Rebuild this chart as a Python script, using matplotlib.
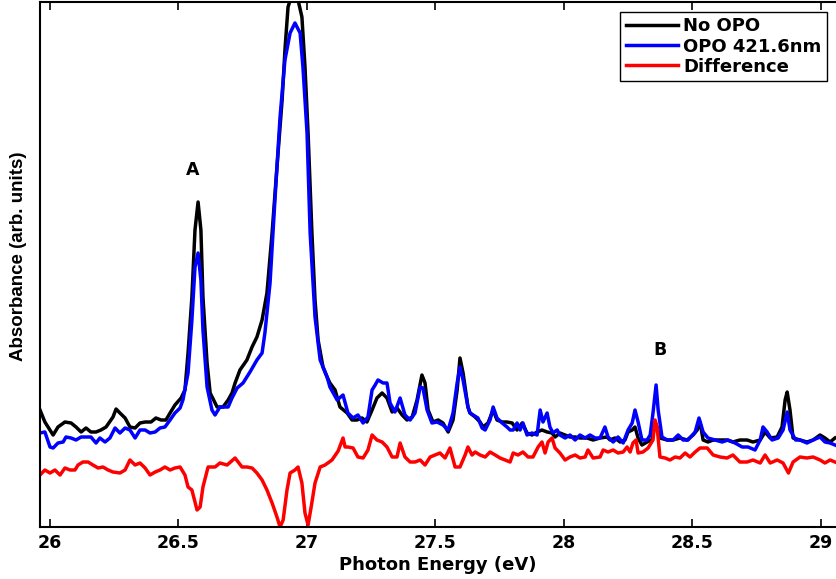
import matplotlib
matplotlib.use("Agg")
import matplotlib.pyplot as plt

# photon energy (eV) and absorbance (arb. units)
energy_no_opo = [25.963, 25.982, 26.014, 26.033, 26.060, 26.084, 26.103, 26.123, 26.142, 26.161,
                 26.181, 26.200, 26.220, 26.247, 26.259, 26.274, 26.294, 26.313, 26.333, 26.352,
                 26.372, 26.395, 26.414, 26.434, 26.453, 26.469, 26.488, 26.512, 26.527, 26.539,
                 26.554, 26.566, 26.578, 26.589, 26.597, 26.613, 26.625, 26.652, 26.675, 26.695,
                 26.710, 26.722, 26.741, 26.768, 26.788, 26.807, 26.827, 26.846, 26.866, 26.885,
                 26.905, 26.916, 26.928, 26.943, 26.955, 26.967, 26.982, 26.994, 27.006, 27.021,
                 27.033, 27.045, 27.064, 27.080, 27.091, 27.111, 27.130, 27.158, 27.177, 27.196,
                 27.216, 27.235, 27.255, 27.274, 27.294, 27.313, 27.333, 27.352, 27.372, 27.391,
                 27.411, 27.430, 27.449, 27.461, 27.473, 27.492, 27.512, 27.531, 27.551, 27.570,
                 27.586, 27.597, 27.609, 27.628, 27.636, 27.656, 27.675, 27.687, 27.706, 27.726,
                 27.741, 27.761, 27.780, 27.800, 27.819, 27.839, 27.858, 27.877, 27.897, 27.916,
                 27.936, 27.955, 27.967, 27.986, 28.006, 28.025, 28.045, 28.064, 28.091, 28.115,
                 28.142, 28.169, 28.181, 28.200, 28.220, 28.239, 28.251, 28.267, 28.278, 28.290,
                 28.305, 28.325, 28.344, 28.356, 28.364, 28.375, 28.403, 28.426, 28.453, 28.481,
                 28.504, 28.520, 28.531, 28.543, 28.562, 28.582, 28.609, 28.636, 28.659, 28.686,
                 28.714, 28.737, 28.765, 28.784, 28.804, 28.831, 28.850, 28.862, 28.870, 28.881,
                 28.893, 28.920, 28.947, 28.971, 28.998, 29.017, 29.037, 29.056]
absorb_no_opo = [117, 105, 92, 100, 105, 104, 100, 95, 99, 95,
                 95, 97, 100, 110, 118, 114, 109, 100, 99, 104,
                 105, 105, 109, 107, 107, 114, 122, 129, 137, 174,
                 230, 297, 325, 297, 230, 164, 134, 120, 120, 127,
                 134, 144, 157, 167, 180, 190, 207, 234, 294, 360,
                 427, 477, 520, 532, 533, 527, 510, 460, 394, 294,
                 227, 187, 160, 150, 144, 137, 120, 114, 107, 107,
                 109, 105, 117, 129, 134, 129, 115, 119, 112, 107,
                 110, 127, 152, 144, 117, 105, 107, 104, 95, 107,
                 137, 169, 154, 120, 114, 110, 105, 100, 104, 117,
                 107, 105, 105, 104, 97, 104, 94, 92, 95, 97,
                 95, 94, 90, 94, 92, 90, 90, 89, 89, 87,
                 89, 90, 87, 89, 85, 87, 95, 97, 100, 89,
                 82, 85, 87, 105, 100, 89, 87, 87, 89, 87,
                 92, 97, 105, 87, 85, 87, 87, 87, 85, 87,
                 87, 85, 87, 95, 89, 90, 100, 127, 135, 117,
                 89, 87, 85, 87, 92, 89, 85, 89]

energy_opo = [25.963, 25.982, 26.002, 26.014, 26.033, 26.053, 26.064, 26.084, 26.103, 26.123,
              26.142, 26.161, 26.181, 26.196, 26.216, 26.235, 26.255, 26.274, 26.294, 26.313,
              26.333, 26.352, 26.372, 26.391, 26.411, 26.430, 26.449, 26.469, 26.488, 26.508,
              26.519, 26.539, 26.554, 26.566, 26.578, 26.589, 26.597, 26.613, 26.632, 26.644,
              26.663, 26.695, 26.710, 26.730, 26.753, 26.780, 26.807, 26.827, 26.838, 26.858,
              26.877, 26.897, 26.916, 26.936, 26.955, 26.975, 26.986, 27.002, 27.014, 27.033,
              27.053, 27.080, 27.091, 27.119, 27.142, 27.161, 27.181, 27.200, 27.220, 27.239,
              27.255, 27.267, 27.278, 27.298, 27.313, 27.325, 27.344, 27.364, 27.383, 27.403,
              27.422, 27.442, 27.453, 27.469, 27.488, 27.508, 27.531, 27.551, 27.570, 27.586,
              27.597, 27.609, 27.628, 27.636, 27.648, 27.667, 27.683, 27.695, 27.714, 27.726,
              27.741, 27.761, 27.780, 27.792, 27.804, 27.819, 27.831, 27.842, 27.858, 27.877,
              27.897, 27.909, 27.920, 27.936, 27.947, 27.959, 27.975, 27.986, 28.006, 28.025,
              28.045, 28.064, 28.084, 28.103, 28.123, 28.142, 28.161, 28.173, 28.193, 28.212,
              28.232, 28.251, 28.267, 28.278, 28.290, 28.305, 28.325, 28.337, 28.348, 28.360,
              28.368, 28.383, 28.403, 28.426, 28.446, 28.465, 28.484, 28.512, 28.527, 28.543,
              28.562, 28.589, 28.617, 28.640, 28.667, 28.695, 28.718, 28.745, 28.765, 28.776,
              28.792, 28.811, 28.835, 28.854, 28.870, 28.881, 28.903, 28.920, 28.947, 28.971,
              28.998, 29.017, 29.037, 29.056]
absorb_opo = [94, 95, 80, 79, 84, 85, 90, 89, 87, 90,
              90, 90, 84, 89, 85, 89, 99, 94, 99, 97,
              89, 97, 97, 94, 95, 99, 100, 107, 114, 119,
              127, 154, 207, 260, 274, 247, 197, 140, 117, 112,
              120, 120, 129, 139, 144, 155, 167, 174, 194, 244,
              327, 410, 467, 494, 504, 494, 460, 394, 294, 210,
              167, 150, 140, 127, 132, 114, 109, 112, 104, 110,
              137, 142, 147, 144, 144, 124, 115, 129, 112, 107,
              114, 140, 139, 117, 104, 105, 102, 97, 114, 144,
              160, 147, 120, 114, 112, 109, 99, 97, 107, 120,
              109, 104, 100, 97, 97, 104, 97, 104, 92, 94,
              92, 117, 105, 114, 100, 94, 97, 92, 89, 92,
              87, 92, 89, 92, 89, 89, 100, 90, 85, 90,
              84, 97, 104, 117, 105, 87, 87, 92, 114, 142,
              117, 90, 87, 87, 92, 87, 87, 95, 109, 95,
              89, 87, 85, 87, 84, 80, 80, 77, 87, 100,
              95, 87, 89, 97, 115, 97, 87, 87, 84, 87,
              90, 85, 84, 82]

energy_diff = [25.963, 25.982, 26.002, 26.021, 26.041, 26.060, 26.080, 26.099, 26.111, 26.130,
               26.150, 26.169, 26.189, 26.208, 26.228, 26.247, 26.274, 26.294, 26.313, 26.333,
               26.352, 26.372, 26.391, 26.411, 26.430, 26.449, 26.469, 26.488, 26.508, 26.527,
               26.539, 26.554, 26.574, 26.586, 26.597, 26.617, 26.644, 26.663, 26.691, 26.722,
               26.749, 26.768, 26.788, 26.807, 26.827, 26.846, 26.866, 26.885, 26.897, 26.909,
               26.924, 26.936, 26.955, 26.967, 26.982, 26.994, 27.006, 27.018, 27.033, 27.053,
               27.072, 27.099, 27.123, 27.142, 27.150, 27.161, 27.181, 27.200, 27.220, 27.239,
               27.255, 27.274, 27.294, 27.313, 27.333, 27.352, 27.364, 27.383, 27.403, 27.422,
               27.442, 27.461, 27.481, 27.500, 27.519, 27.539, 27.558, 27.578, 27.597, 27.617,
               27.628, 27.644, 27.656, 27.675, 27.695, 27.714, 27.734, 27.753, 27.772, 27.792,
               27.804, 27.823, 27.842, 27.862, 27.881, 27.901, 27.916, 27.928, 27.940, 27.955,
               27.967, 27.986, 28.006, 28.025, 28.045, 28.064, 28.084, 28.095, 28.115, 28.142,
               28.154, 28.173, 28.193, 28.212, 28.232, 28.247, 28.259, 28.270, 28.282, 28.290,
               28.309, 28.329, 28.348, 28.356, 28.364, 28.375, 28.395, 28.414, 28.434, 28.453,
               28.473, 28.492, 28.512, 28.531, 28.559, 28.582, 28.609, 28.636, 28.659, 28.686,
               28.714, 28.737, 28.765, 28.784, 28.804, 28.831, 28.854, 28.875, 28.893, 28.920,
               28.947, 28.971, 28.998, 29.017, 29.037, 29.056]
absorb_diff = [52, 57, 54, 57, 52, 59, 57, 57, 62, 65,
               65, 62, 59, 60, 57, 55, 54, 57, 67, 62,
               64, 59, 52, 55, 57, 60, 57, 59, 60, 52,
               40, 37, 17, 20, 40, 60, 60, 64, 62, 69,
               60, 60, 59, 54, 47, 37, 24, 10, 0, 7,
               37, 54, 57, 60, 44, 14, 2, 20, 44, 60,
               62, 67, 76, 89, 80, 80, 79, 70, 69, 77,
               92, 87, 85, 80, 70, 70, 84, 70, 65, 65,
               67, 62, 70, 72, 74, 69, 79, 60, 60, 72,
               80, 72, 75, 72, 70, 75, 72, 69, 67, 65,
               74, 72, 75, 70, 70, 80, 85, 74, 85, 89,
               79, 74, 67, 70, 72, 69, 70, 77, 69, 70,
               77, 75, 77, 74, 75, 80, 75, 84, 87, 74,
               75, 79, 87, 107, 100, 70, 69, 67, 70, 69,
               74, 70, 75, 79, 79, 72, 70, 69, 72, 65,
               65, 67, 64, 72, 64, 67, 64, 54, 65, 70,
               69, 70, 67, 64, 67, 65]

labels = ["No OPO", "OPO 421.6nm", "Difference"]
colors = ["black", "blue", "red"]

plt.rcParams["font.family"] = ["DejaVu Sans"]
plt.rcParams["font.weight"] = "bold"

fig = plt.figure(figsize=(8.36, 5.79), dpi=100)
ax = fig.add_axes([40 / 836, 52 / 579, 796 / 836, 525 / 579])

ax.plot(energy_no_opo, absorb_no_opo, color=colors[0], lw=2.5, label=labels[0])
ax.plot(energy_opo, absorb_opo, color=colors[1], lw=2.5, label=labels[1])
ax.plot(energy_diff, absorb_diff, color=colors[2], lw=2.5, label=labels[2])

ax.text(26.558, 357, "A", fontsize=12.5, fontweight="bold", ha="center", va="center")
ax.text(28.375, 177, "B", fontsize=12.5, fontweight="bold", ha="center", va="center")

ax.set_xlim(25.963, 29.060)
ax.set_ylim(0, 525)
ax.set_xticks([26, 26.5, 27, 27.5, 28, 28.5, 29])
ax.set_xticklabels(["26", "26.5", "27", "27.5", "28", "28.5", "29"])
ax.set_yticks([])
ax.tick_params(axis="x", direction="in", top=True, length=6, width=1.2,
               labelsize=12.5, pad=5)
for s in ["left", "bottom", "top"]:
    ax.spines[s].set_linewidth(1.5)
ax.spines["right"].set_visible(False)

ax.set_xlabel("Photon Energy (eV)", fontsize=13, fontweight="bold", labelpad=3)
ax.set_ylabel("Absorbance (arb. units)", fontsize=13.5, fontweight="bold",
              family="Liberation Sans")
ax.yaxis.set_label_coords(-0.016, 0.516)

leg = ax.legend(loc="upper right", bbox_to_anchor=(0.9887, 0.981), borderaxespad=0,
                fancybox=False, framealpha=1, edgecolor="black", fontsize=13,
                handlelength=2.9, handletextpad=0.3, labelspacing=0.12, borderpad=0.3)
leg.get_frame().set_linewidth(1.0)

fig.savefig("out.png", dpi=100)
